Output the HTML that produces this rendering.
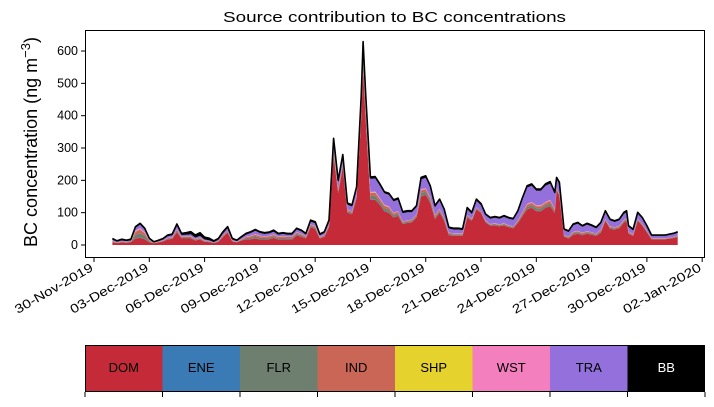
<!DOCTYPE html>
<html><head><meta charset="utf-8"><style>
body{margin:0;background:#fff;font-family:"Liberation Sans",sans-serif;}
svg text{font-family:"Liberation Sans",sans-serif;}
</style></head><body>
<svg id="c" width="714" height="402" xmlns="http://www.w3.org/2000/svg"></svg>
<script>
const days=[1,1.25,1.5,1.75,2,2.25,2.5,2.75,3,3.25,3.5,3.75,4,4.25,4.5,4.75,5,5.25,5.5,5.75,6,6.25,6.5,6.75,7,7.25,7.5,7.75,8,8.25,8.5,8.75,9,9.25,9.5,9.75,10,10.25,10.5,10.75,11,11.25,11.5,11.75,12,12.25,12.5,12.75,13,13.25,13.5,13.75,14,14.25,14.5,14.6,14.75,15,15.25,15.5,15.75,16,16.25,16.5,16.75,17,17.25,17.5,17.75,18,18.25,18.5,18.75,19,19.25,19.5,19.75,20,20.25,20.5,20.75,21,21.25,21.5,21.75,22,22.25,22.5,22.75,23,23.25,23.5,23.75,24,24.25,24.5,24.75,25,25.1,25.25,25.5,25.75,26,26.25,26.5,26.75,27,27.25,27.5,27.75,28,28.25,28.5,28.75,28.9,29,29.25,29.5,29.75,30,30.25,30.5,30.75,31,31.25,31.5,31.67];
const total=[20,13,18,15,18,57,67,52,21,10,15,20,31,34,65,36,38,41,31,38,24,21,13,20,41,57,21,15,26,36,41,48,41,38,40,46,36,38,36,36,52,46,36,77,72,34,41,77,330,200,280,130,124,180,460,629,460,210,212,190,165,160,140,145,103,106,106,122,209,214,183,122,142,111,55,52,52,50,116,101,142,128,96,85,88,85,91,85,82,106,147,183,189,173,173,189,196,163,209,194,50,44,65,70,60,67,62,55,70,106,80,75,80,101,106,60,49,101,85,60,31,31,31,31,34,37,41];
const dom=[8,6,8,7,9,20,22,18,8,5,8,11,17,19,40,20,20,20,14,17,10,9,6,10,25,38,11,8,14,18,18,20,17,17,18,22,17,18,17,17,30,25,20,55,50,20,25,55,275,160,240,100,95,145,390,540,380,140,140,125,105,100,85,90,65,68,70,85,150,155,130,80,100,75,30,28,28,28,85,75,110,100,70,60,60,58,60,55,52,68,90,110,115,105,105,115,120,100,170,150,25,20,32,35,30,35,32,28,38,75,50,48,52,70,75,35,28,75,60,40,18,18,18,18,20,22,25];
const tra=[3,2,3,2,3,8,10,8,3,1,2,3,5,5,10,5,5,6,4,5,3,3,2,3,6,7,3,2,4,6,8,10,8,7,7,8,6,6,6,6,8,7,5,8,8,5,6,9,25,20,20,15,15,18,30,40,35,40,40,38,35,35,35,35,25,25,22,22,30,32,30,25,25,22,12,12,12,10,18,15,20,18,16,16,17,17,20,20,20,25,40,50,50,45,45,50,50,45,25,30,15,14,20,22,18,20,18,16,18,20,18,16,16,18,18,14,12,16,15,12,7,7,7,7,8,8,9];
const bb=[4,3,4,3,4,4,4,4,3,2,3,3,4,4,5,5,6,8,8,10,7,6,4,4,5,5,4,3,4,4,4,4,4,4,4,5,4,4,4,4,4,4,4,5,5,4,4,5,8,6,7,5,5,5,8,10,8,6,6,6,5,5,5,5,5,5,5,5,6,6,5,5,5,5,4,4,4,4,5,5,5,5,4,4,4,4,4,4,4,5,5,5,6,5,5,6,6,5,6,5,4,4,4,4,4,4,4,4,4,5,4,4,4,5,5,4,4,4,4,4,3,3,3,3,3,3,3];
const sourceNames=["DOM","ENE","FLR","IND","SHP","WST","TRA","BB"];
const sourceColors=["#c52a38","#3a7bb5","#6e7f70","#c96656","#e6d22d","#f47fbe","#9370db","#000000"];
const midShares=[0.02,0.45,0.38,0.03,0.12]; // ENE,FLR,IND,SHP,WST share of remainder
const yTicks=[0,100,200,300,400,500,600];
const xTickDays=[0,3,6,9,12,15,18,21,24,27,30,33];
const xTickLabels=["30-Nov-2019","03-Dec-2019","06-Dec-2019","09-Dec-2019","12-Dec-2019","15-Dec-2019","18-Dec-2019","21-Dec-2019","24-Dec-2019","27-Dec-2019","30-Dec-2019","02-Jan-2020"];

const NS="http://www.w3.org/2000/svg",svg=document.getElementById('c');
function mk(t,a,p){const e=document.createElementNS(NS,t);for(const k in a)e.setAttribute(k,a[k]);(p||svg).appendChild(e);return e;}
const L=85,R=705,T=30,B=258;
const X=d=>94+d*18.43, Y=v=>245-v*0.3233;

const layers=sourceNames.map(()=>[]);
for(let i=0;i<days.length;i++){
  const rem=Math.max(0,total[i]-dom[i]-tra[i]-bb[i]);
  layers[0].push(dom[i]);
  for(let j=0;j<5;j++) layers[1+j].push(rem*midShares[j]);
  layers[6].push(tra[i]);layers[7].push(bb[i]);
}
let base=days.map(()=>0);
const g=mk('g',{});


layers.forEach((ly,k)=>{
  const top=base.map((b,i)=>b+ly[i]);
  let d='M'+days.map((dd,i)=>X(dd).toFixed(1)+','+Y(top[i]).toFixed(1)).join('L');
  for(let i=days.length-1;i>=0;i--) d+='L'+X(days[i]).toFixed(1)+','+Y(base[i]).toFixed(1);
  const p=mk('path',{d:d+'Z',fill:sourceColors[k],stroke:'none'},g);
  
  
  base=top;
});
const tl=mk('path',{d:'M'+days.map((dd,i)=>X(dd).toFixed(1)+','+Y(total[i]).toFixed(1)).join('L'),fill:'none',stroke:'#000','stroke-width':1.6,'stroke-linejoin':'round'});



const fr=mk('rect',{x:L+.5,y:T+.5,width:R-L-1,height:B-T-1,fill:'none',stroke:'#000','stroke-width':1});



yTicks.forEach(v=>{
  const y=Y(v);
  const ln=mk('line',{x1:L-4,x2:L,y1:y,y2:y,stroke:'#000'});
  
  
  const t=mk('text',{x:L-7,y:y+4,'text-anchor':'end','font-size':12.5});
  t.textContent=v;
  
  
});
xTickDays.forEach((d,i)=>{
  const x=X(d);
  const ln=mk('line',{x1:x,x2:x,y1:B,y2:B+4,stroke:'#000'});
  
  
  const t=mk('text',{x:x,y:B+12,'text-anchor':'end','font-size':12.5,textLength:88,lengthAdjust:'spacingAndGlyphs',transform:`rotate(-30 ${x} ${B+12})`});
  t.textContent=xTickLabels[i];
  
  
});
const tt=mk('text',{x:394.5,y:22,'text-anchor':'middle','font-size':15,textLength:343,lengthAdjust:'spacingAndGlyphs'});
tt.textContent='Source contribution to BC concentrations';


const yl=mk('text',{x:37,y:142,'text-anchor':'middle','font-size':18,transform:'rotate(-90 37 142)'});
yl.innerHTML='BC concentration (ng m<tspan dy="-7" font-size="13">−3</tspan><tspan dy="7">)</tspan>';



const cw=(R-L)/8;
sourceNames.forEach((n,i)=>{
  const x=L+i*cw;
  const r=mk('rect',{x:x,y:345,width:cw,height:47,fill:sourceColors[i]});
  
  
  const t=mk('text',{x:x+cw/2,y:372,'text-anchor':'middle','font-size':13,fill:n==='BB'?'#fff':'#000'});
  t.textContent=n;
  
  
});
for(let i=0;i<=8;i++){
  const ln=mk('line',{x1:L+i*cw,x2:L+i*cw,y1:392,y2:397,stroke:'#000'});
  
  
}
const lb=mk('rect',{x:L+.5,y:345.5,width:R-L-1,height:46,fill:'none',stroke:'#000','stroke-width':1});


</script>
</body></html>
